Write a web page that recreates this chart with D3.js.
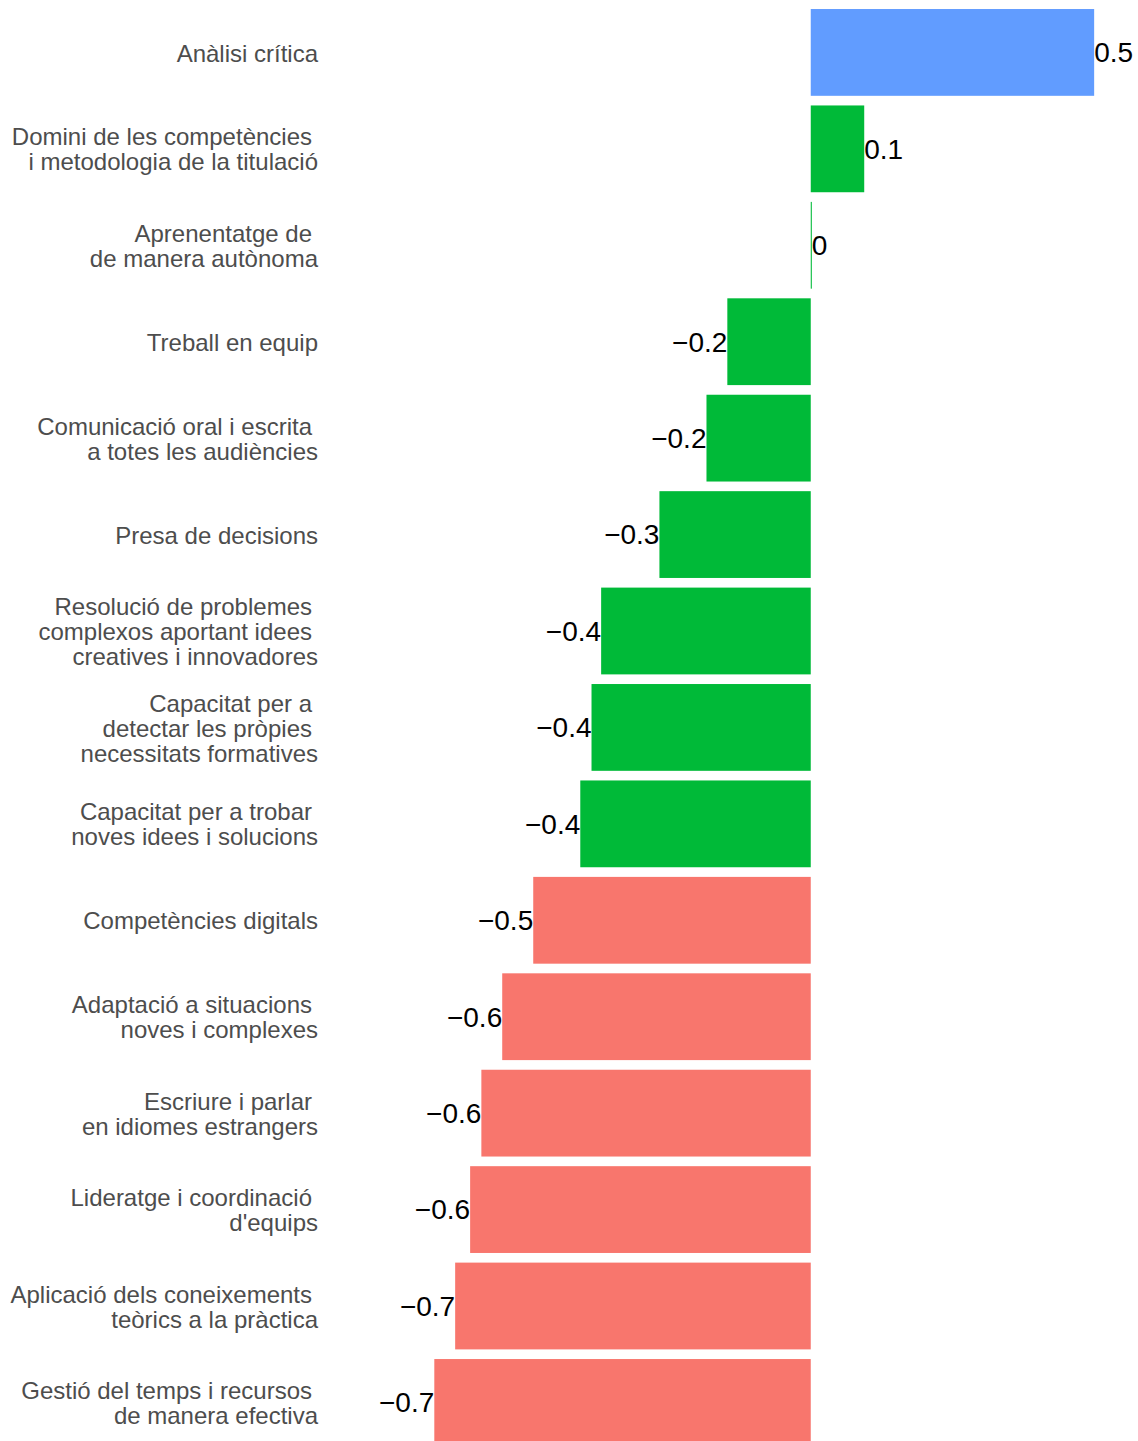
<!DOCTYPE html>
<html>
<head>
<meta charset="utf-8">
<script src="https://cdn.jsdelivr.net/npm/d3@7"></script>
<style>
  html, body { margin: 0; padding: 0; background: #fff; }
  svg { display: block; }
</style>
</head>
<body>
<svg id="chart" width="1138" height="1441"></svg>
<script>
// Competences (top to bottom), their scores and colour group
const competences = [
  "Anàlisi crítica",
  "Domini de les competències\ni metodologia de la titulació",
  "Aprenentatge de\nde manera autònoma",
  "Treball en equip",
  "Comunicació oral i escrita\na totes les audiències",
  "Presa de decisions",
  "Resolució de problemes\ncomplexos aportant idees\ncreatives i innovadores",
  "Capacitat per a\ndetectar les pròpies\nnecessitats formatives",
  "Capacitat per a trobar\nnoves idees i solucions",
  "Competències digitals",
  "Adaptació a situacions\nnoves i complexes",
  "Escriure i parlar\nen idiomes estrangers",
  "Lideratge i coordinació\nd'equips",
  "Aplicació dels coneixements\nteòrics a la pràctica",
  "Gestió del temps i recursos\nde manera efectiva"
];
const scores = [0.530, 0.100, 0.002, -0.156, -0.195, -0.283, -0.392, -0.410, -0.431,
                -0.519, -0.577, -0.616, -0.637, -0.665, -0.704];
const groups = ["alt", "mig", "mig", "mig", "mig", "mig", "mig", "mig", "mig",
                "baix", "baix", "baix", "baix", "baix", "baix"];
const groupNames = ["alt", "mig", "baix"];
const groupColors = ["#619CFF", "#00BA38", "#F8766D"];

const data = competences.map((c, i) => ({ name: c, value: scores[i], group: groups[i] }));

const svg = d3.select("#chart");

const x = d3.scaleLinear().domain([-0.9, 0.612]).range([329.5, 1138]);
const y = d3.scaleBand()
  .domain(competences)
  .range([4.2, 4.2 + 96.43 * competences.length])
  .paddingInner(0.1)
  .paddingOuter(0.05);
const color = d3.scaleOrdinal().domain(groupNames).range(groupColors);

const fmt = v => {
  const r = Math.round(v * 10) / 10;
  if (r === 0) return "0";
  return (r < 0 ? "\u2212" : "") + Math.abs(r);
};

// Bars
svg.append("g").selectAll("rect")
  .data(data)
  .join("rect")
  .attr("x", d => Math.min(x(0), x(d.value)))
  .attr("y", d => y(d.name))
  .attr("width", d => Math.max(1, Math.abs(x(d.value) - x(0))))
  .attr("height", y.bandwidth())
  .attr("fill", d => color(d.group));

// Value labels at the bar ends
svg.append("g").selectAll("text")
  .data(data)
  .join("text")
  .attr("x", d => x(d.value))
  .attr("y", d => y(d.name) + y.bandwidth() / 2)
  .attr("dy", "0.35em")
  .attr("text-anchor", d => d.value < 0 ? "end" : "start")
  .attr("font-family", "'Liberation Sans', Arial, sans-serif")
  .attr("font-size", 28)
  .attr("fill", "#000")
  .text(d => fmt(d.value));

// Category labels, right aligned, multi-line
const lineH = 25;
const labels = svg.append("g")
  .attr("font-family", "'Liberation Sans', Arial, sans-serif")
  .attr("font-size", 24)
  .attr("fill", "#4D4D4D")
  .attr("text-anchor", "end");

data.forEach(d => {
  const lines = d.name.split("\n");
  const cy = y(d.name) + y.bandwidth() / 2;
  const t = labels.append("text").attr("y", cy);
  lines.forEach((ln, j) => {
    t.append("tspan")
      .attr("x", j === lines.length - 1 ? 318 : 312)
      .attr("y", cy + (j - (lines.length - 1) / 2) * lineH)
      .attr("dy", "0.38em")
      .text(ln);
  });
});
</script>
</body>
</html>
